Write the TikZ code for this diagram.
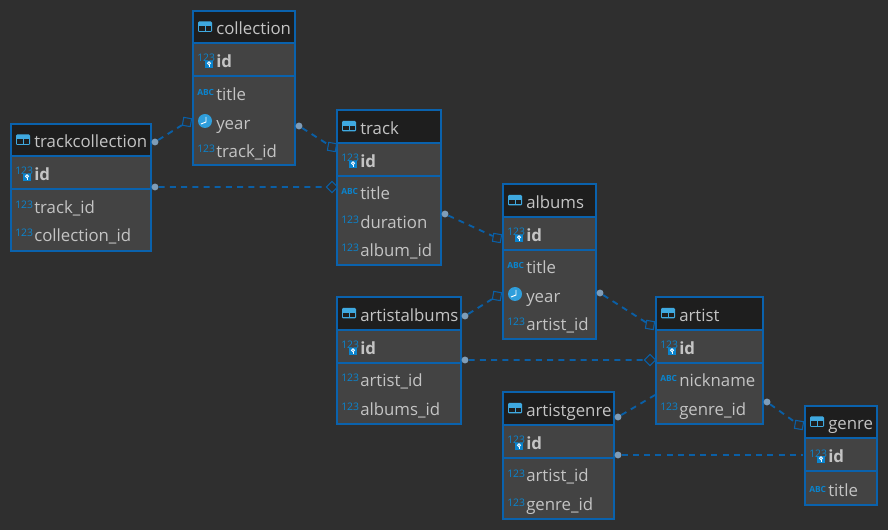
\documentclass[tikz,border=0pt]{standalone}
\usepackage{fontspec}
\setmainfont{Open Sans}
\definecolor{bgc}{HTML}{2F2F2F}
\definecolor{bodyc}{HTML}{434343}
\definecolor{headc}{HTML}{1E1E1E}
\definecolor{edgec}{HTML}{0A62AD}
\definecolor{linec}{HTML}{0A5FA6}
\definecolor{iconc}{HTML}{0A84CE}
\definecolor{lightic}{HTML}{3FA9E0}
\definecolor{txtc}{HTML}{C4C4C4}
\definecolor{dotc}{HTML}{7F9DB8}
\tikzset{
  x=0.75pt,y=-0.75pt,
  tbox/.style={draw=edgec,line width=1.6pt,fill=bodyc,inner sep=0pt,outer sep=0pt,rectangle},
  label/.style={anchor=west,inner sep=0pt,text=txtc,text height=9.6pt,text depth=2.6pt,font=\fontsize{12.6}{14}\selectfont},
  boldlabel/.style={label,font=\fontsize{12.6}{14}\selectfont\bfseries},
  typetag/.style={anchor=west,inner sep=0pt,text=iconc,text height=6pt,text depth=0pt,font=\fontsize{7.8}{9}\selectfont},
  abctag/.style={typetag,font=\fontsize{6.3}{8}\selectfont\bfseries},
  enddot/.style={circle,fill=dotc,draw=none,inner sep=0pt,minimum size=5.2pt},
  endsq/.style={rectangle,draw=linec,line width=0.8pt,inner sep=0pt,minimum size=6pt},
  rel/.style={draw=linec,line width=1.4pt,dash pattern=on 4.5pt off 3.9pt},
}
% \tbl{name}{x1}{y1}{x2}{y2}{header bottom}{id bottom}{label}
\newcommand{\tbl}[8]{%
  \node[tbox,minimum width={(#4-#2)*0.75pt},minimum height={(#5-#3)*0.75pt},anchor=north west] (#1) at (#2,#3) {};
  \fill[headc] (#2+1,#3+1) rectangle (#4-1,#6);
  \draw[edgec,line width=0.8pt] (#2,#6) -- (#4,#6);
  \draw[edgec,line width=0.8pt] (#2,#7) -- (#4,#7);
  \pgfmathsetmacro{\hy}{(#3+#6)/2}
  \fill[lightic,rounded corners=0.8pt] (#2+5,\hy-5.5) rectangle (#2+19,\hy+5);
  \fill[headc] (#2+6,\hy-0.8) rectangle (#2+11.5,\hy+3.8);
  \fill[headc] (#2+12.5,\hy-0.8) rectangle (#2+18,\hy+3.8);
  \node[label] (#1-name) at (#2+23,\hy+3) {#8};
  \pgfmathsetmacro{\iy}{(#6+#7)/2}
  \node[typetag] (#1-idt) at (#2+4,\iy-1.5) {123};
  \fill[iconc] (#2+12,\iy+1.5) rectangle (#2+20,\iy+8.5);
  \draw[white,line width=0.7pt] (#2+16,\iy+3.8) circle (1.5);
  \draw[white,line width=0.7pt] (#2+16,\iy+5.3) -- (#2+16,\iy+7.5);
  \node[boldlabel] (#1-id) at (#2+23,\iy+3) {id};
}
\newcommand{\numrow}[4]{%
  \node[typetag] (#1t) at (#2+4,#3-2) {123};
  \node[label] (#1) at (#2+23,#3+2) {#4};
}
\newcommand{\abcrow}[4]{%
  \node[abctag] (#1t) at (#2+4,#3-2) {ABC};
  \node[label] (#1) at (#2+23,#3+2) {#4};
}
\newcommand{\daterow}[4]{%
  \fill[lightic!70!iconc] (#2+12,#3-2) circle (7);
  \draw[white,line width=0.7pt] (#2+13,#3-6) -- (#2+13,#3-1) -- (#2+8,#3+1);
  \node[label] (#1) at (#2+23,#3+2) {#4};
}
\newcommand{\rel}[6]{%
  \node[endsq,rotate=#6] (#2) at #4 {};
  \node[enddot] (#1) at #3 {};
  \draw[rel] (#1) -- (#2);
}
\begin{document}
\begin{tikzpicture}
\useasboundingbox (0,0) rectangle (888,530);
\fill[bgc] (0,0) rectangle (888,530);

\tbl{collection}{193}{11}{295}{165}{43}{76}{collection}
\abcrow{c1}{193}{94}{title}
\daterow{c2}{193}{123}{year}
\numrow{c3}{193}{151}{track\_id}

\tbl{trackcollection}{11}{124}{151}{251}{156}{189}{trackcollection}
\numrow{tc1}{11}{207}{track\_id}
\numrow{tc2}{11}{235}{collection\_id}

\tbl{track}{337}{110}{441}{265}{143}{176}{track}
\abcrow{t1}{337}{193}{title}
\numrow{t2}{337}{222}{duration}
\numrow{t3}{337}{250}{album\_id}

\tbl{albums}{503}{184}{596}{339}{217}{250}{albums}
\abcrow{a1}{503}{267}{title}
\daterow{a2}{503}{296}{year}
\numrow{a3}{503}{324}{artist\_id}

\tbl{artistalbums}{337}{297}{461}{424}{330}{363}{artistalbums}
\numrow{aa1}{337}{380}{artist\_id}
\numrow{aa2}{337}{409}{albums\_id}

\tbl{artist}{656}{297}{763}{424}{330}{363}{artist}
\abcrow{ar1}{656}{380}{nickname}
\numrow{ar2}{656}{409}{genre\_id}

\tbl{artistgenre}{503}{392}{614}{519}{425}{458}{artistgenre}
\numrow{ag1}{503}{475}{artist\_id}
\numrow{ag2}{503}{504}{genre\_id}

\tbl{genre}{805}{406}{877}{505}{438}{471}{genre}
\abcrow{g1}{805}{490}{title}

\rel{r1a}{r1b}{(299,126)}{(332,147)}{}{-10}
\rel{r2a}{r2b}{(155,142)}{(187,122)}{}{-10}
\rel{r3a}{r3b}{(155,187)}{(332,187)}{}{45}
\rel{r4a}{r4b}{(445,214)}{(497,238)}{}{-10}
\rel{r5a}{r5b}{(465,316)}{(497,296)}{}{-10}
\rel{r6a}{r6b}{(465,360)}{(650,360)}{}{45}
\rel{r7a}{r7b}{(600,293)}{(650,325)}{}{-10}
\node[enddot] (r8a) at (618,417) {};
\coordinate (r8b) at (655,395);
\draw[rel] (r8a) -- (r8b);
\rel{r9a}{r9b}{(767,402)}{(799,425)}{}{-10}
\node[enddot] (r10a) at (618,455) {};
\coordinate (r10b) at (803,455);
\draw[rel] (r10a) -- (r10b);
\end{tikzpicture}
\end{document}
